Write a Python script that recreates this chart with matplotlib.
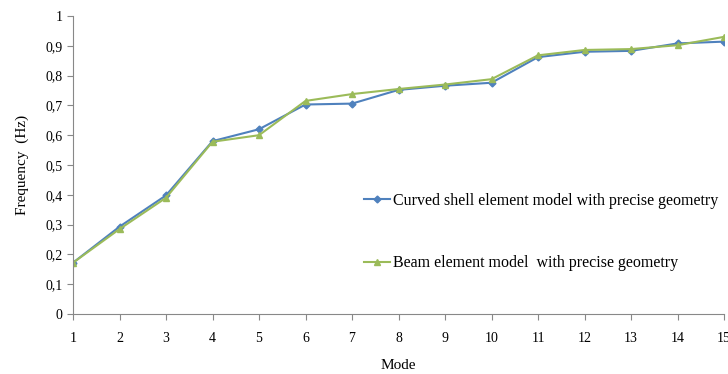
import matplotlib
matplotlib.use('Agg')
import matplotlib.pyplot as plt
import numpy as np

modes = list(range(1, 16))
shell = [0.172, 0.293, 0.398, 0.580, 0.620, 0.703, 0.706, 0.752, 0.766, 0.776, 0.862, 0.880, 0.883, 0.908, 0.914]
beam = [0.172, 0.285, 0.390, 0.578, 0.600, 0.715, 0.738, 0.755, 0.770, 0.788, 0.868, 0.886, 0.889, 0.902, 0.930]
yticks = [0, 0.1, 0.2, 0.3, 0.4, 0.5, 0.6, 0.7, 0.8, 0.9, 1]
ytick_labels = ['0', '0,1', '0,2', '0,3', '0,4', '0,5', '0,6', '0,7', '0,8', '0,9', '1']

plt.rcParams['font.family'] = ['Liberation Serif', 'DejaVu Serif']

fig = plt.figure(figsize=(7.28, 3.74), dpi=100)
ax = fig.add_axes([73 / 728, 60 / 374, 651 / 728, 298 / 374])

ax.plot(modes, shell, '-D', color='#4F81BD', markersize=3.5, lw=1.5,
        label='Curved shell element model with precise geometry')
ax.plot(modes, beam, '-^', color='#9BBB59', markersize=4.5, lw=1.5,
        label='Beam element model  with precise geometry')

ax.set_xlim(1, 15)
ax.set_ylim(0, 1)
ax.set_xticks(modes)
ax.set_yticks(yticks)
ax.set_yticklabels(ytick_labels)
ax.tick_params(labelsize=10, direction='out', color='#888888', length=4)
ax.tick_params(axis='x', pad=9)
for s in ['top', 'right']:
    ax.spines[s].set_visible(False)
for s in ['left', 'bottom']:
    ax.spines[s].set_color('#888888')

ax.set_xlabel('Mode', fontsize=11, labelpad=10)
ax.set_ylabel('Frequency  (Hz)', fontsize=11, labelpad=12)

fig.legend(loc='center left', bbox_to_anchor=(356 / 728, 1 - 232 / 374),
           frameon=False, fontsize=11.5, handlelength=1.6, handletextpad=0.2,
           labelspacing=2.9, borderpad=0)

plt.savefig('out.png')
